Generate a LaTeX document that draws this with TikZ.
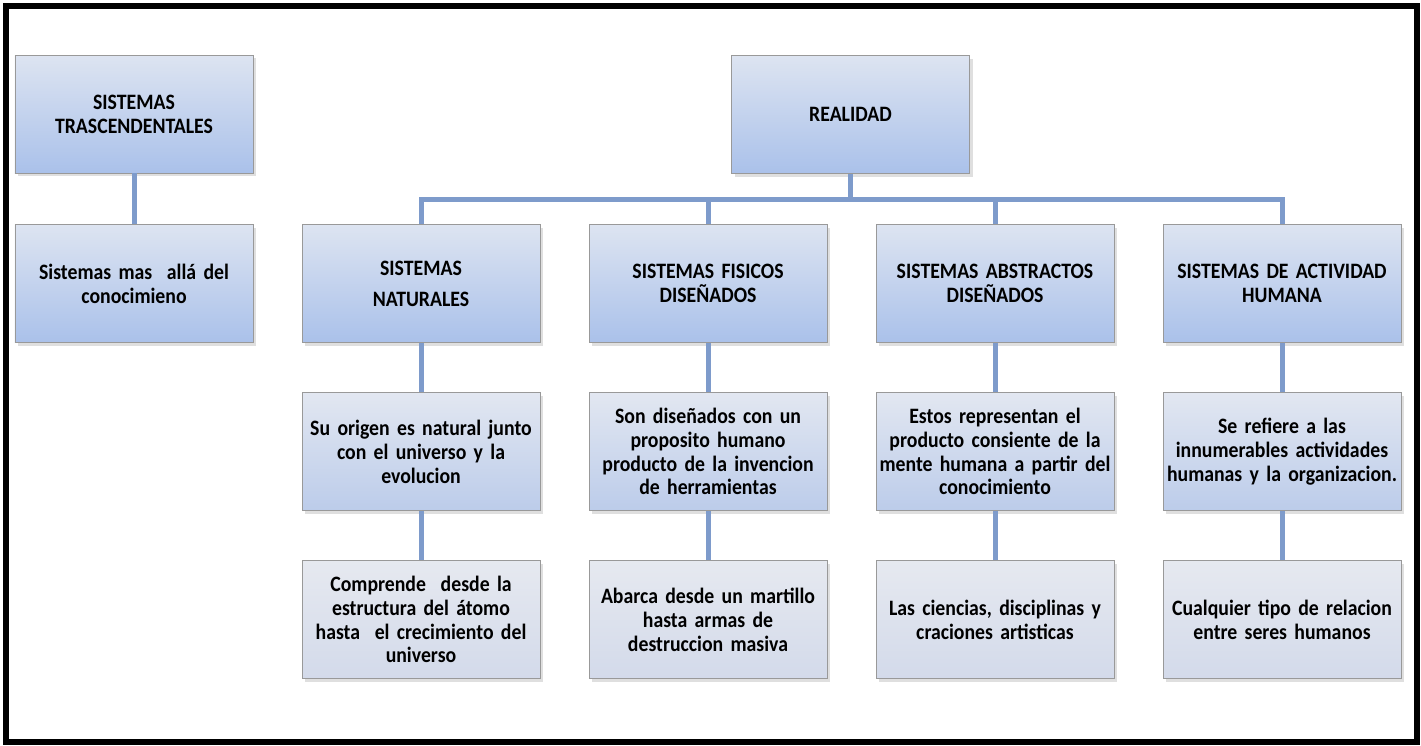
\documentclass[tikz,border=0pt]{standalone}
\usepackage{fontspec}
\setmainfont{Carlito}
\newfontfamily\cajafont[FakeStretch=0.9, WordSpace=0.6]{Carlito}
\usetikzlibrary{shadows}

\definecolor{linea}{HTML}{7E9BCB}
\definecolor{cajaarriba}{HTML}{DDE4F1}
\definecolor{cajaabajo}{HTML}{AAC1EA}
\definecolor{claroarriba}{HTML}{E2E7F1}
\definecolor{claroabajo}{HTML}{BCCCEA}
\definecolor{paloarriba}{HTML}{E6E9F0}
\definecolor{paloabajo}{HTML}{D3DAEA}

\tikzset{
  caja/.style={draw=gray!80, line width=0.5pt, top color=cajaarriba, bottom color=cajaabajo,
    minimum width=47.6mm, minimum height=23.6mm, text width=47.2mm, inner xsep=0.2mm, align=center,
    font=\cajafont\bfseries\fontsize{12.5}{13.6}\selectfont,
    drop shadow={shadow xshift=0.6mm, shadow yshift=-0.6mm, opacity=0.25}},
  cajaclara/.style={caja, top color=claroarriba, bottom color=claroabajo},
  cajapalida/.style={caja, top color=paloarriba, bottom color=paloabajo},
  conector/.style={linea, line width=1mm}
}

\begin{document}
\begin{tikzpicture}[x=0.2mm, y=-0.2mm]
	\useasboundingbox (0,0) rectangle (1421,745);
	\draw [line width=1.2mm] (6,6) rectangle (1417,742);

	% columna izquierda
	\node [caja] (trasc) at (134,114) {SISTEMAS\\TRASCENDENTALES};
	\node [caja] (masalla) at (134,283.5) {Sistemas mas \ allá del\\conocimieno};

	% raiz
	\node [caja] (realidad) at (850.5,114.5) {REALIDAD};
	\coordinate (bus) at (850.5,199);

	% segundo nivel
	\node [caja] (nat) at (421,283.5) {SISTEMAS\\[4pt]NATURALES};
	\node [caja] (fis) at (708,283.5) {SISTEMAS FISICOS\\DISEÑADOS};
	\node [caja] (abs) at (995,283.5) {SISTEMAS ABSTRACTOS\\DISEÑADOS};
	\node [caja] (hum) at (1282,283.5) {SISTEMAS DE ACTIVIDAD\\HUMANA};

	% tercer nivel
	\node [cajaclara] (natdesc) at (421,451.5) {Su origen es natural junto\\con el universo y la\\evolucion};
	\node [cajaclara] (fisdesc) at (708,451.5) {Son diseñados con un\\proposito humano\\producto de la invencion\\de herramientas};
	\node [cajaclara] (absdesc) at (995,451.5) {Estos representan el\\producto consiente de la\\mente humana a partir del\\conocimiento};
	\node [cajaclara] (humdesc) at (1282,451.5) {Se refiere a las\\innumerables actividades\\humanas y la organizacion.};

	% cuarto nivel
	\node [cajapalida] (natej) at (421,619.5) {Comprende \ desde la\\estructura del átomo\\hasta \ el crecimiento del\\universo};
	\node [cajapalida] (fisej) at (708,619.5) {Abarca desde un martillo\\hasta armas de\\destruccion masiva};
	\node [cajapalida] (absej) at (995,619.5) {Las ciencias, disciplinas y\\craciones artisticas};
	\node [cajapalida] (humej) at (1282,619.5) {Cualquier tipo de relacion\\entre seres humanos};

	% conectores
	\draw [conector] (trasc) -- (masalla);
	\draw [conector] (realidad.south) |- (bus -| nat) -- (nat.north);
	\draw [conector] (realidad.south) |- (bus -| fis) -- (fis.north);
	\draw [conector] (realidad.south) |- (bus -| abs) -- (abs.north);
	\draw [conector] (realidad.south) |- (bus -| hum) -- (hum.north);
	\draw [conector] (nat) -- (natdesc);
	\draw [conector] (fis) -- (fisdesc);
	\draw [conector] (abs) -- (absdesc);
	\draw [conector] (hum) -- (humdesc);
	\draw [conector] (natdesc) -- (natej);
	\draw [conector] (fisdesc) -- (fisej);
	\draw [conector] (absdesc) -- (absej);
	\draw [conector] (humdesc) -- (humej);
\end{tikzpicture}
\end{document}
